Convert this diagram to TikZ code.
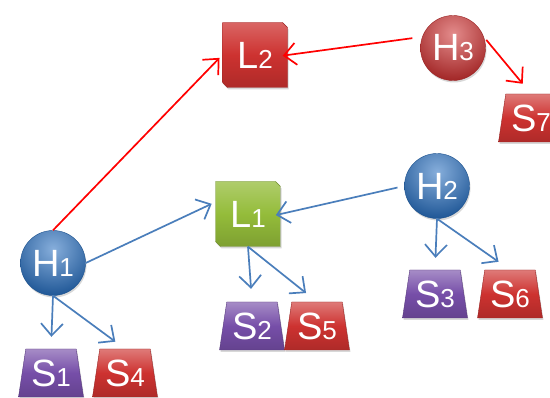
\documentclass[tikz,border=0pt]{standalone}
\usepackage{fontspec}
\setmainfont{Liberation Sans}
\usetikzlibrary{arrows.meta,shapes.geometric,shapes.misc,shadows}
\definecolor{ballblue}{RGB}{36,108,190}
\definecolor{ballred}{RGB}{205,45,45}
\definecolor{boxred}{RGB}{205,50,48}
\definecolor{boxpurple}{RGB}{118,78,168}
\definecolor{boxgreen}{RGB}{148,188,58}
\definecolor{arrblue}{RGB}{74,126,187}
\definecolor{arrred}{RGB}{255,0,0}
\newcommand{\lbl}[2]{{\fontsize{38}{38}\selectfont #1}{\fontsize{26}{26}\selectfont #2}}
\tikzset{
  shad/.style={drop shadow={shadow xshift=1pt, shadow yshift=-2pt, opacity=0.3}},
  ballnode/.style={circle, minimum size=65pt, inner sep=0pt, text=white, shad,
    draw=#1!75!black, line width=0.4pt,
    path picture={\shade[inner color=#1!55!white, outer color=#1!78!black]
      ([yshift=14pt]path picture bounding box.center) circle (48pt);}},
  cubenode/.style={chamfered rectangle, chamfered rectangle corners={north east,south west},
    chamfered rectangle xsep=2.5pt, chamfered rectangle ysep=2.5pt,
    minimum width=65pt, minimum height=65pt, inner sep=0pt, text=white, shad,
    draw=#1!75!black, line width=0.4pt,
    top color=#1!75!white, bottom color=#1!85!black, middle color=#1},
  trapnode/.style={trapezium, trapezium angle=78, trapezium stretches=true,
    minimum width=65pt, minimum height=48pt, inner sep=0pt, text=white, shad,
    draw=#1!75!black, line width=0.4pt,
    top color=#1!65!white, bottom color=#1!85!black, middle color=#1},
  barrow/.style={draw=arrblue, line width=1.7pt, -{Straight Barb[length=12pt,width=22pt]}},
  rarrow/.style={draw=arrred, line width=1.7pt, -{Straight Barb[length=12pt,width=22pt]}},
}
\begin{document}
\begin{tikzpicture}[x=1pt,y=-1pt]
\fill[white] (0,0) rectangle (550,398);
\useasboundingbox (0,0) rectangle (550,398);
\clip (0,0) rectangle (550,398);
\node[ballnode=ballblue] (H1) at (53,263) {\lbl{H}{1}};
\node[ballnode=ballblue] (H2) at (437,186) {\lbl{H}{2}};
\node[ballnode=ballred] (H3) at (453,48) {\lbl{H}{3}};
\node[cubenode=boxgreen] (L1) at (248,214) {\lbl{L}{1}};
\node[cubenode=boxred] (L2) at (255,55) {\lbl{L}{2}};
\node[trapnode=boxpurple] (S1) at (51,373) {\lbl{S}{1}};
\node[trapnode=boxred] (S4) at (125,373) {\lbl{S}{4}};
\node[trapnode=boxpurple] (S2) at (252,326) {\lbl{S}{2}};
\node[trapnode=boxred] (S5) at (317,326) {\lbl{S}{5}};
\node[trapnode=boxpurple] (S3) at (435,294) {\lbl{S}{3}};
\node[trapnode=boxred] (S6) at (510,294) {\lbl{S}{6}};
\node[trapnode=boxred] (S7) at (531,118) {\lbl{S}{7}};
% red connectors
\draw[rarrow, shorten >=4pt] (H1.north) -- (L2.west);
\draw[rarrow, shorten <=10pt, shorten >=-5pt] (H3.160) -- (L2.east);
\draw[rarrow, shorten <=4pt, shorten >=13pt] (H3.20) -- (S7.north);
% blue connectors
\draw[barrow, shorten >=4pt] (H1.east) -- (L1.160);
\draw[barrow, shorten <=7pt, shorten >=-5pt] (H2.west) -- (L1.east);
\draw[barrow, shorten >=12pt] (H1.south) -- (S1.north);
\draw[barrow, shorten >=12pt] (H1.south) -- (S4.north);
\draw[barrow, shorten >=13pt] (L1.south) -- (S2.north);
\draw[barrow, shorten >=14pt] (L1.south) -- (S5.north);
\draw[barrow, shorten >=12pt] (H2.south) -- (S3.north);
\draw[barrow, shorten >=14pt] (H2.south) -- (S6.north);
\end{tikzpicture}
\end{document}
